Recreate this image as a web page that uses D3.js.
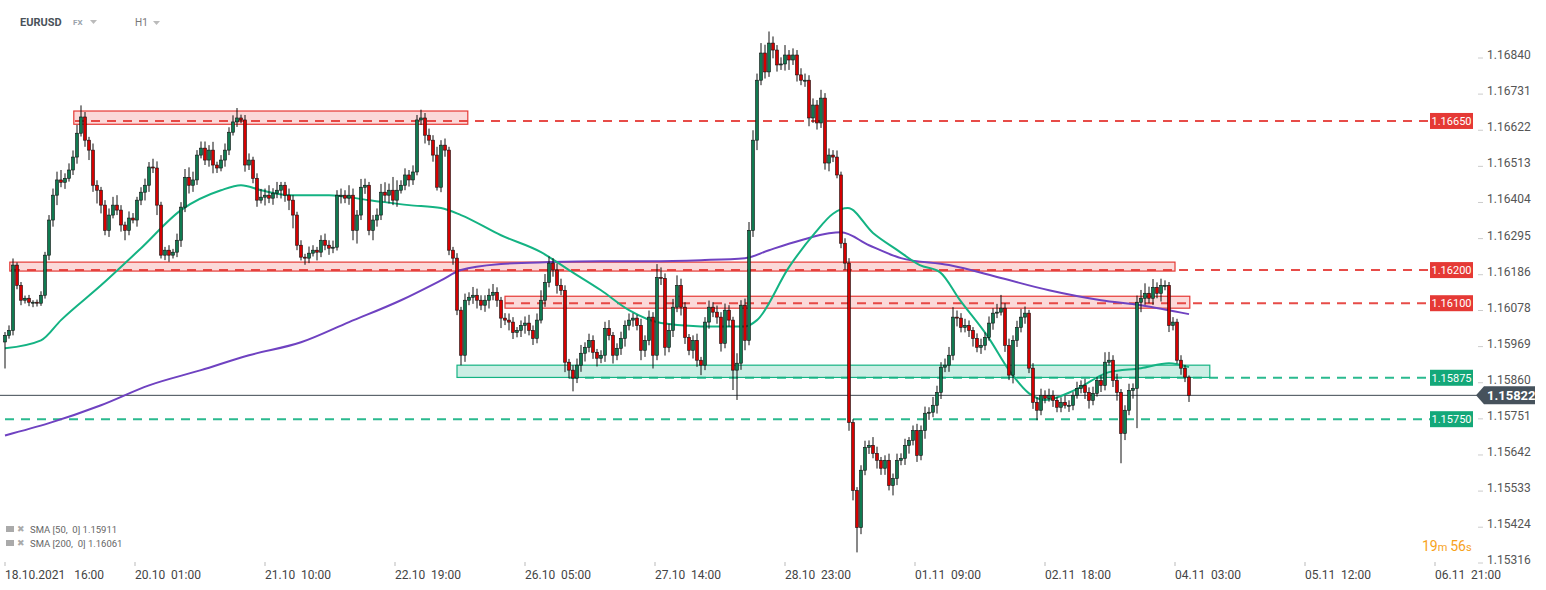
<!DOCTYPE html>
<html><head><meta charset="utf-8">
<script src="https://cdn.jsdelivr.net/npm/d3@7/dist/d3.min.js"></script>
<style>body{margin:0;background:#fff;font-family:Roboto,"Noto Sans",sans-serif}</style>
</head><body><svg id="c" width="1546" height="590"></svg>
<script>
// Prices stored as points (0.00001) above 1.15000
const closes=[1003,1018,1215,1154,1109,1115,1103,1103,1100,1124,1245,1351,1426,1472,1465,1477,1502,1541,1613,1662,
1592,1562,1456,1441,1396,1320,1366,1396,1381,1336,1320,1357,1351,1411,1435,1456,1511,1508,1396,1245,
1260,1245,1254,1290,1390,1480,1456,1472,1547,1568,1532,1562,1517,1508,1532,1562,1616,1647,1659,1653,
1517,1532,1477,1411,1420,1426,1417,1432,1441,1456,1426,1411,1366,1275,1239,1236,1251,1260,1254,1290,
1275,1266,1269,1426,1426,1417,1426,1320,1366,1450,1456,1320,1351,1366,1435,1426,1441,1411,1441,1456,
1487,1472,1496,1653,1659,1607,1592,1547,1450,1577,1562,1260,1236,1079,943,1109,1118,1124,1109,1094,
1109,1124,1133,1109,1055,1049,1043,1012,1018,1033,1040,1018,994,1049,1109,1163,1221,1200,1154,1139,
922,898,874,913,949,967,988,952,934,943,1024,1003,943,964,994,1033,1049,1055,1033,958,
988,1058,943,1178,1175,967,1018,1088,1154,1088,997,958,988,928,913,1043,1088,1073,1058,979,
1079,1049,898,919,1094,988,1320,1592,1773,1855,1798,1885,1864,1819,1822,1849,1834,1849,1789,1773,
1773,1659,1698,1644,1719,1523,1547,1541,1487,1281,1221,740,535,423,596,665,671,647,626,602,
626,550,571,626,632,671,686,716,641,716,768,771,792,831,907,913,943,1058,1055,1027,
1033,1018,994,967,973,997,1040,1070,1073,1085,973,883,988,1027,1058,1070,904,801,777,822,
813,822,807,786,801,792,792,822,843,852,831,807,828,867,852,922,928,867,831,707,
777,837,843,1103,1115,1130,1115,1148,1130,1154,1154,1033,1043,928,904,877,822];
const upWick=[10,15,20,8,10,8,10,6,8,12,10,15,20,25,30,15,20,20,25,35,
15,10,20,15,10,15,20,25,30,15,10,20,15,10,15,20,15,25,20,10,
10,15,10,20,15,25,30,25,15,20,20,15,25,10,15,20,15,20,30,10,
15,20,10,15,25,20,30,15,25,10,10,20,15,10,15,10,20,15,10,15,
20,15,20,15,20,15,30,20,15,25,20,10,15,20,25,30,20,40,30,15,
20,15,20,15,25,15,20,15,25,15,20,10,10,15,10,20,15,25,20,15,
15,20,25,15,10,15,20,15,10,15,20,25,15,20,30,25,20,15,20,20,
15,10,15,20,25,15,20,15,10,15,20,25,10,15,20,15,20,15,10,20,
15,20,15,40,30,15,20,25,30,20,15,10,15,20,10,15,20,15,20,15,
20,15,10,30,15,20,25,30,20,30,25,35,20,15,20,30,15,20,15,20,
20,15,20,15,25,15,20,15,20,10,15,15,10,10,15,20,15,25,20,10,
15,20,15,20,15,20,10,15,20,15,20,15,25,20,15,20,25,30,20,15,
20,15,10,15,20,15,20,15,25,40,15,20,15,20,25,20,10,15,15,20,
15,20,15,10,15,20,15,10,20,15,20,15,20,10,15,30,25,15,20,10,
15,20,15,20,25,30,20,25,15,20,15,10,15,10,15,10,5];
const downWick=[80,10,15,12,15,10,12,15,10,8,10,15,20,30,15,20,10,15,20,10,
20,30,20,40,25,15,20,10,15,20,30,15,10,20,15,25,20,15,30,10,
15,20,10,15,20,15,25,20,15,10,15,20,25,15,10,20,15,10,15,10,
20,15,15,20,10,25,15,20,15,25,20,30,40,15,10,20,15,10,25,15,
15,20,15,10,25,15,20,30,40,15,20,15,30,20,15,20,25,15,20,10,
15,20,15,10,15,25,15,20,10,15,20,15,20,15,30,20,15,20,25,15,
20,25,15,20,30,15,25,20,15,20,25,15,20,15,10,20,15,20,25,15,
30,25,40,15,20,25,15,20,25,15,20,15,25,15,20,25,15,20,15,30,
20,15,40,15,20,25,15,20,15,25,20,15,25,20,30,15,20,15,20,25,
15,20,60,90,20,30,15,20,30,15,20,15,25,20,15,20,30,15,20,15,
20,25,15,20,15,20,25,15,10,15,20,25,30,75,20,15,20,15,25,20,
20,15,30,20,15,20,25,15,20,15,25,20,15,25,20,15,20,15,25,15,
15,20,25,15,20,15,10,20,15,10,20,15,25,20,15,20,15,20,30,15,
15,10,20,15,15,10,20,15,10,15,20,25,15,10,20,15,10,20,25,90,
20,15,25,120,30,20,15,20,15,25,15,20,15,10,20,15,20];
// SMA samples: [candle index, points above 1.15]
const sma50=[[0,964],[9,988],[14,1049],[24,1154],[34,1266],[44,1381],[54,1441],[59,1456],[64,1441],[71,1426],[81,1426],[91,1411],[101,1396],[109,1387],[114,1366],[124,1305],[134,1254],[141,1200],[149,1139],[156,1079],[164,1040],[174,1030],[185,1030],[188,1049],[196,1209],[202.5,1312],[207,1370],[210.7,1387],[217,1312],[223,1261],[228.7,1215],[233.7,1194],[238.7,1110],[246,994],[251,898],[256,828],[260,808],[267.5,838],[276,892],[284,904],[291,919],[296,907]];
const sma200=[[0,701],[11,738],[24,792],[36,852],[49,898],[61,943],[74,982],[86,1043],[99,1109],[109,1169],[114,1200],[124,1218],[136,1224],[149,1227],[161,1227],[174,1230],[185,1236],[191,1260],[199,1290],[206,1311],[209,1314],[216,1275],[224,1236],[236,1215],[249,1176],[261,1139],[274,1109],[284,1094],[296,1067]];
const zones=[{i0:17.2,i1:115.7,top:1680,bot:1640,c:"red"},{i0:1.2,i1:292.5,top:1224,bot:1197,c:"red"},{i0:125,i1:296.2,top:1121,bot:1085,c:"red"},{i0:113,i1:301.2,top:913,bot:876,c:"green"}];
const levels=[{v:1650,c:"red",i0:17.5},{v:1200,c:"red",i0:1.5},{v:1100,c:"red",i0:125},{v:875,c:"green",i0:141},{v:750,c:"green",i0:0}];
const yTicks=[1.16840,1.16731,1.16622,1.16513,1.16404,1.16295,1.16186,1.16078,1.15969,1.15860,1.15751,1.15642,1.15533,1.15424,1.15316];
const xTickLabels=["18.10.2021   16:00","20.10  01:00","21.10  10:00","22.10  19:00","26.10  05:00","27.10  14:00","28.10  23:00","01.11  09:00","02.11  18:00","04.11  03:00","05.11  12:00","06.11  21:00"];
const xTickIdx=[0,32.5,65,97.5,130,162.5,195,227.5,260,292.5,325,357.5];
const lastPrice=822;

const P=v=>1.15+v/1e5;
const svg=d3.select("#c");
const x=d3.scaleLinear().domain([0,296]).range([5,1189]);
const y=d3.scaleLinear().domain([1.15316,1.16840]).range([563,58]);
const RED="#e53935",GREEN="#14b383";

zones.forEach(z=>{
  svg.append("rect").attr("x",x(z.i0)).attr("y",y(P(z.top))).attr("width",x(z.i1)-x(z.i0))
   .attr("height",y(P(z.bot))-y(P(z.top)))
   .attr("fill",z.c==="red"?"rgba(239,83,80,0.22)":"rgba(20,179,131,0.22)")
   .attr("stroke",z.c==="red"?RED:GREEN).attr("stroke-width",1.2);
});
levels.forEach(l=>{
  svg.append("line").attr("x1",x(l.i0)).attr("x2",1430).attr("y1",y(P(l.v))).attr("y2",y(P(l.v)))
   .attr("stroke",l.c==="red"?RED:GREEN).attr("stroke-width",2).attr("stroke-dasharray","9,7").attr("opacity",0.9);
});
svg.append("line").attr("x1",0).attr("x2",1478).attr("y1",y(P(lastPrice))).attr("y2",y(P(lastPrice))).attr("stroke","#3d4750").attr("stroke-width",1);

const ln=d3.line().x(d=>x(d[0])).y(d=>y(P(d[1]))).curve(d3.curveMonotoneX);
svg.append("path").attr("d",ln(sma200)).attr("fill","none").attr("stroke","#6f42c1").attr("stroke-width",2);
svg.append("path").attr("d",ln(sma50)).attr("fill","none").attr("stroke","#14b383").attr("stroke-width",2);

const g=svg.append("g");
closes.forEach((c,i)=>{
  const o=i===0?closes[0]-20:closes[i-1];
  const hi=Math.max(o,c)+upWick[i], lo=Math.min(o,c)-downWick[i];
  const cx=x(i);
  g.append("line").attr("x1",cx).attr("x2",cx).attr("y1",y(P(hi))).attr("y2",y(P(lo))).attr("stroke","#111").attr("stroke-width",1);
  const t=y(P(Math.max(o,c))),b=y(P(Math.min(o,c)));
  g.append("rect").attr("x",cx-1.5).attr("y",t).attr("width",3).attr("height",Math.max(1,b-t))
   .attr("fill",c>=o?"#0f7a50":"#d50000").attr("stroke","#111").attr("stroke-width",0.6);
});

levels.forEach(l=>{
  const yy=y(P(l.v));
  svg.append("rect").attr("x",1430).attr("y",yy-8).attr("width",43).attr("height",16).attr("fill",l.c==="red"?RED:"#13a879");
  svg.append("text").attr("x",1451.5).attr("y",yy+4).attr("text-anchor","middle").attr("fill","#fff").attr("font-size",11).text(P(l.v).toFixed(5));
});
yTicks.forEach(t=>{
  svg.append("line").attr("x1",1478).attr("x2",1483).attr("y1",y(t)).attr("y2",y(t)).attr("stroke","#ccc");
  svg.append("text").attr("x",1487).attr("y",y(t)+1).attr("fill","#555").attr("font-size",12).text(t.toFixed(5));
});
const ly=y(P(lastPrice));
svg.append("path").attr("d",`M1476,${ly} L1484,${ly-9} L1535,${ly-9} L1535,${ly+9} L1484,${ly+9} Z`).attr("fill","#46525c");
svg.append("text").attr("x",1487).attr("y",ly+5).attr("fill","#fff").attr("font-size",13).attr("font-weight","bold").text(P(lastPrice).toFixed(5));

xTickIdx.forEach((t,k)=>{
  const xx=x(t);
  svg.append("line").attr("x1",xx).attr("x2",xx).attr("y1",562).attr("y2",566).attr("stroke","#bbb");
  svg.append("text").attr("x",xx).attr("y",579).attr("fill","#444").attr("font-size",12).attr("xml:space","preserve").style("white-space","pre").text(xTickLabels[k]);
});

svg.append("text").attr("x",20).attr("y",26).attr("font-size",11).attr("font-weight","bold").attr("fill","#4a525a").text("EURUSD");
svg.append("text").attr("x",73).attr("y",25).attr("font-size",8).attr("font-weight","bold").attr("fill","#9aa3ab").text("FX");
svg.append("path").attr("d","M90,20 L97,20 L93.5,24 Z").attr("fill","#bbb");
svg.append("text").attr("x",135).attr("y",26).attr("font-size",10).attr("fill","#777").text("H1");
svg.append("path").attr("d","M153,21 L160,21 L156.5,25 Z").attr("fill","#bbb");
[["SMA [50,  0] 1.15911",533],["SMA [200,  0] 1.16061",547]].forEach(([t,yy])=>{
  svg.append("rect").attr("x",6).attr("y",yy-7).attr("width",8).attr("height",6).attr("fill","#aaa");
  svg.append("text").attr("x",17).attr("y",yy-1).attr("font-size",9).attr("fill","#aaa").text("✖");
  svg.append("text").attr("x",30).attr("y",yy).attr("font-size",9.5).attr("fill","#666").attr("xml:space","preserve").text(t);
});
const tm=svg.append("text").attr("x",1422).attr("y",551).attr("font-size",14).attr("fill","#f7a21b");
tm.append("tspan").text("19");tm.append("tspan").attr("font-size",11).text("m ");
tm.append("tspan").text("56");tm.append("tspan").attr("font-size",11).text("s");
</script></body></html>
